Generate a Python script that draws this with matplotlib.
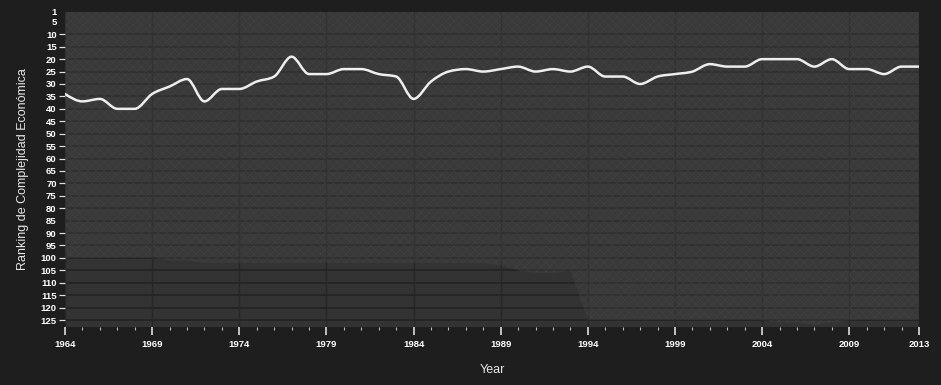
import matplotlib
matplotlib.use("Agg")
import matplotlib.pyplot as plt
from matplotlib.path import Path
from matplotlib.patches import PathPatch
import numpy as np

# years shown on the chart
years = list(range(1964, 2014))

# highlighted country: ranking per year
ranking = [34, 37, 36, 40, 40, 34, 31, 28, 37, 32,
           32, 29, 27, 19, 26, 26, 24, 24, 26, 27,
           36, 29, 25, 24, 25, 24, 23, 25, 24, 25,
           23, 27, 27, 30, 27, 26, 25, 22, 23, 23,
           20, 20, 20, 23, 20, 24, 24, 26, 23, 23]

# how far down the other countries' lines reach each year (number of ranked countries)
n_countries = [100, 100, 100, 100, 100, 100, 101, 101, 102, 102,
               102, 102, 102, 102, 102, 102, 102, 102, 102, 102,
               102, 102, 102, 102, 102, 103, 105, 106, 106, 105,
               125, 125, 125, 125, 125, 125, 125, 125, 125, 125,
               125, 126, 126, 127, 126, 125, 125, 125, 125, 125]

ytick_vals = [1] + list(range(5, 130, 5))
xtick_major = list(range(1964, 2010, 5)) + [2013]


def monotone_path(xs, ys):
    # smooth curve through the points (same idea as d3's curveMonotoneX)
    xs = np.asarray(xs, float)
    ys = np.asarray(ys, float)
    h = np.diff(xs)
    s = np.diff(ys) / h
    m = np.zeros(len(xs))
    for k in range(1, len(xs) - 1):
        p = (s[k - 1] * h[k] + s[k] * h[k - 1]) / (h[k - 1] + h[k])
        m[k] = (np.sign(s[k - 1]) + np.sign(s[k])) * min(abs(s[k - 1]), abs(s[k]), 0.5 * abs(p))
    m[0] = (3 * s[0] - m[1]) / 2
    m[-1] = (3 * s[-1] - m[-2]) / 2
    verts = [(xs[0], ys[0])]
    codes = [Path.MOVETO]
    for k in range(len(xs) - 1):
        d = h[k] / 3
        verts += [(xs[k] + d, ys[k] + m[k] * d),
                  (xs[k + 1] - d, ys[k + 1] - m[k + 1] * d),
                  (xs[k + 1], ys[k + 1])]
        codes += [Path.CURVE4] * 3
    return Path(verts, codes)


bg = "#1e1e1e"
fig = plt.figure(figsize=(9.41, 3.85), dpi=100, facecolor=bg)
ax = fig.add_axes([0.0691, 0.1514, 0.9075, 0.8182])
ax.set_facecolor("#333333")
plt.rcParams["hatch.linewidth"] = 0.4

# grid lines under everything
for v in ytick_vals[2:]:
    ax.axhline(v, color="#222222", linewidth=1.1, zorder=1)
for v in xtick_major:
    ax.axvline(v, color="#262626", linewidth=1.0, zorder=1)

# band covered by the other countries' lines
ax.fill_between(years, 1, n_countries, facecolor="#4a4a4a", alpha=0.3,
                edgecolor="none", zorder=2)
ax.fill_between(years, 1, n_countries, facecolor="none", edgecolor="#555555",
                hatch="xxxx", linewidth=0, alpha=0.3, zorder=2)

# highlighted country
ax.add_patch(PathPatch(monotone_path(years, ranking), facecolor="none",
                       edgecolor="#eeeeee", linewidth=1.8, capstyle="round",
                       joinstyle="round", zorder=5))

ax.set_xlim(1964, 2013)
ax.set_ylim(127.7, 0.9)

ax.set_yticks(ytick_vals)
ax.set_yticklabels([str(v) for v in ytick_vals])
ax.set_xticks(xtick_major)
ax.set_xticklabels([str(v) for v in xtick_major])
ax.set_xticks(years, minor=True)

for s in ax.spines.values():
    s.set_visible(False)

ax.tick_params(axis="y", colors="#dddddd", length=4.5, width=0.9, pad=1.5,
               labelsize=6.8, labelcolor="white")
ax.tick_params(axis="x", which="major", colors="#dddddd", length=5.5, width=1.2,
               pad=4, labelsize=6.8, labelcolor="white")
ax.tick_params(axis="x", which="minor", colors="#bbbbbb", length=2.5, width=0.8)
for lab in ax.get_xticklabels() + ax.get_yticklabels():
    lab.set_fontweight("bold")
    lab.set_family("Liberation Sans")

# no tick dash at 1, 5 and 85 in the original
yt = ax.yaxis.get_major_ticks()
for i in [0, 1, ytick_vals.index(85)]:
    yt[i].tick1line.set_visible(False)

ax.set_xlabel("Year", color="#e6e6e6", fontsize=9, family="Liberation Sans", labelpad=11)
ax.set_ylabel("Ranking de Complejidad Económica", color="#e6e6e6", fontsize=9,
              family="Liberation Sans", labelpad=8)

fig.savefig("out.png", dpi=100, facecolor=bg)
